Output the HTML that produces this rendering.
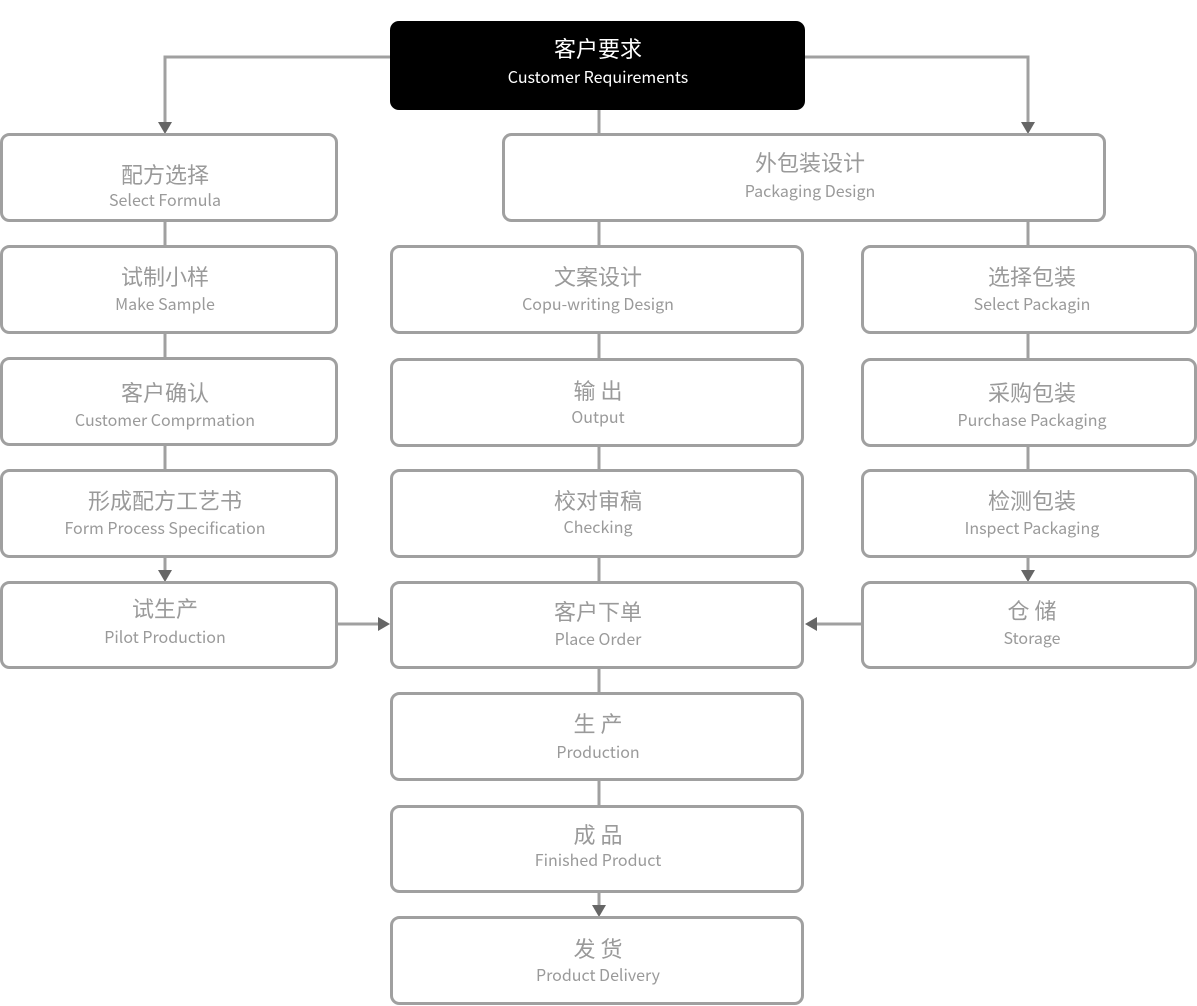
<!DOCTYPE html>
<html><head><meta charset="utf-8"><style>
html,body{margin:0;padding:0;background:#fff;}
svg{display:block}
text{text-anchor:middle;dominant-baseline:central;font-family:"Noto Sans CJK SC","Liberation Sans",sans-serif;fill:#9a9a9a}
.c{font-size:22px}
.e{font-size:16px}
.w{fill:#fff}
rect.b{fill:#fff;stroke:#a0a0a0;stroke-width:3}
line,polyline{stroke:#a0a0a0;stroke-width:3;fill:none}
polygon{fill:#666}
</style></head><body>
<svg width="1197" height="1006" viewBox="0 0 1197 1006">
<polyline points="390,57 165,57 165,124"/>
<polygon points="158,122 172,122 165,134"/>
<polyline points="805,57 1028,57 1028,124"/>
<polygon points="1021,122 1035,122 1028,134"/>
<line x1="599" y1="110" x2="599" y2="134"/>
<line x1="599" y1="221" x2="599" y2="246"/>
<line x1="1028" y1="221" x2="1028" y2="246"/>
<line x1="165" y1="221" x2="165" y2="246"/>
<line x1="165" y1="333" x2="165" y2="358"/>
<line x1="165" y1="445" x2="165" y2="470"/>
<line x1="165" y1="557" x2="165" y2="572"/>
<polygon points="158,570 172,570 165,582"/>
<line x1="599" y1="333" x2="599" y2="359"/>
<line x1="599" y1="446" x2="599" y2="470"/>
<line x1="599" y1="557" x2="599" y2="582"/>
<line x1="599" y1="668" x2="599" y2="693"/>
<line x1="599" y1="780" x2="599" y2="806"/>
<line x1="599" y1="892" x2="599" y2="907"/>
<polygon points="592,905 606,905 599,917"/>
<line x1="1028" y1="333" x2="1028" y2="359"/>
<line x1="1028" y1="446" x2="1028" y2="470"/>
<line x1="1028" y1="557" x2="1028" y2="572"/>
<polygon points="1021,570 1035,570 1028,582"/>
<line x1="337" y1="624" x2="380" y2="624"/>
<polygon points="378,617 378,631 390,624"/>
<line x1="862" y1="624" x2="815" y2="624"/>
<polygon points="817,617 817,631 805,624"/>
<rect x="390" y="21" width="415" height="89" rx="9" fill="#000"/>
<text class="c w" x="598" y="48">客户要求</text>
<text class="e w" x="598" y="76">Customer Requirements</text>
<rect class="b" x="503.5" y="134.5" width="601" height="86" rx="8"/>
<text class="c" x="810" y="162">外包装设计</text><text class="e" x="810" y="190">Packaging Design</text>
<rect class="b" x="1.5" y="134.5" width="335" height="86" rx="8"/>
<text class="c" x="165" y="174">配方选择</text><text class="e" x="165" y="199">Select Formula</text>
<rect class="b" x="1.5" y="246.5" width="335" height="86" rx="8"/>
<text class="c" x="165" y="276">试制小样</text><text class="e" x="165" y="303">Make Sample</text>
<rect class="b" x="1.5" y="358.5" width="335" height="86" rx="8"/>
<text class="c" x="165" y="392">客户确认</text><text class="e" x="165" y="419">Customer Comprmation</text>
<rect class="b" x="1.5" y="470.5" width="335" height="86" rx="8"/>
<text class="c" x="165" y="500">形成配方工艺书</text><text class="e" x="165" y="527">Form Process Specification</text>
<rect class="b" x="1.5" y="582.5" width="335" height="85" rx="8"/>
<text class="c" x="165" y="608">试生产</text><text class="e" x="165" y="636">Pilot Production</text>
<rect class="b" x="391.5" y="246.5" width="411" height="86" rx="8"/>
<text class="c" x="598" y="276">文案设计</text><text class="e" x="598" y="303">Copu-writing Design</text>
<rect class="b" x="391.5" y="359.5" width="411" height="86" rx="8"/>
<text class="c" x="598" y="390">输 出</text><text class="e" x="598" y="416">Output</text>
<rect class="b" x="391.5" y="470.5" width="411" height="86" rx="8"/>
<text class="c" x="598" y="500">校对审稿</text><text class="e" x="598" y="526">Checking</text>
<rect class="b" x="391.5" y="582.5" width="411" height="85" rx="8"/>
<text class="c" x="598" y="611">客户下单</text><text class="e" x="598" y="638">Place Order</text>
<rect class="b" x="391.5" y="693.5" width="411" height="86" rx="8"/>
<text class="c" x="598" y="723">生 产</text><text class="e" x="598" y="751">Production</text>
<rect class="b" x="391.5" y="806.5" width="411" height="85" rx="8"/>
<text class="c" x="598" y="834">成 品</text><text class="e" x="598" y="859">Finished Product</text>
<rect class="b" x="391.5" y="917.5" width="411" height="86" rx="8"/>
<text class="c" x="598" y="948">发 货</text><text class="e" x="598" y="974">Product Delivery</text>
<rect class="b" x="862.5" y="246.5" width="333" height="86" rx="8"/>
<text class="c" x="1032" y="276">选择包装</text><text class="e" x="1032" y="303">Select Packagin</text>
<rect class="b" x="862.5" y="359.5" width="333" height="86" rx="8"/>
<text class="c" x="1032" y="392">采购包装</text><text class="e" x="1032" y="419">Purchase Packaging</text>
<rect class="b" x="862.5" y="470.5" width="333" height="86" rx="8"/>
<text class="c" x="1032" y="500">检测包装</text><text class="e" x="1032" y="527">Inspect Packaging</text>
<rect class="b" x="862.5" y="582.5" width="333" height="85" rx="8"/>
<text class="c" x="1032" y="610">仓 储</text><text class="e" x="1032" y="637">Storage</text>
</svg>
</body></html>
